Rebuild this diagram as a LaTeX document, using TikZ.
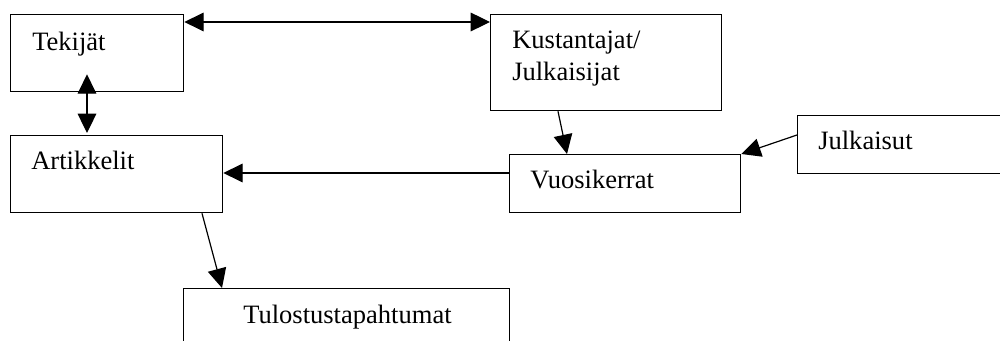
\documentclass[tikz,border=0pt]{standalone}
\usepackage{fontspec}
\setmainfont{Liberation Serif}
\usetikzlibrary{arrows.meta,calc}
\begin{document}
\begin{tikzpicture}[x=0.75pt,y=-0.75pt,
  box/.style={draw,line width=1pt,rectangle,inner sep=0pt,anchor=north west},
  lbl/.style={inner sep=0pt,anchor=base west,font=\fontsize{19.9}{24}\selectfont},
  conn/.style={line width=0.9pt},
  tip/.style={-{Triangle[length=14.5pt,width=14pt]}},
  tips/.style={{Triangle[length=14.5pt,width=14pt]}-{Triangle[length=14.5pt,width=14pt]}}]
\useasboundingbox (0,0) rectangle (1000,341);
\clip (0,0) rectangle (1000,341);
\fill[white] (0,0) rectangle (1000,341);
% boxes
\node[box,minimum width=129.75pt,minimum height=57.75pt] (tek) at (10,14) {};
\node[box,minimum width=173.25pt,minimum height=72pt] (kus) at (490,14) {};
\node[box,minimum width=159pt,minimum height=57.75pt] (art) at (10,135) {};
\node[box,minimum width=173.25pt,minimum height=43.5pt] (vuo) at (509,154) {};
\node[box,minimum width=187.5pt,minimum height=43.5pt] (jul) at (797,115) {};
\node[box,minimum width=244.5pt,minimum height=60pt] (tul) at (183,288) {};
% labels
\node[lbl] (tekL) at (32,51) {Tekijät};
\node[lbl] (kusL1) at (512,49) {Kustantajat/};
\node[lbl] (kusL2) at (512,81) {Julkaisijat};
\node[lbl] (artL) at (31,170) {Artikkelit};
\node[lbl] (vuoL) at (530,189) {Vuosikerrat};
\node[lbl] (julL) at (818,150) {Julkaisut};
\node[lbl] (tulL) at (243,324) {Tulostustapahtumat};
% connectors
\draw[conn,tips] ($(tek.north east)+(0,8)$) -- ($(kus.north west)+(0,8)$);
\draw[conn,tips] ($(tek.south west)+(77,-18)$) -- ($(art.north west)+(77,-2)$);
\draw[conn,tip] ($(vuo.north west)+(0,19)$) -- ($(art.north east)+(0,38)$);
\draw[conn,tip] ($(kus.south west)+(68,0)$) -- ($(vuo.north west)+(58,0)$);
\draw[conn,tip] ($(jul.north west)+(0,20)$) -- (vuo.north east);
\draw[conn,tip] ($(art.south west)+(192,0)$) -- ($(tul.north west)+(39,0)$);
\end{tikzpicture}
\end{document}
